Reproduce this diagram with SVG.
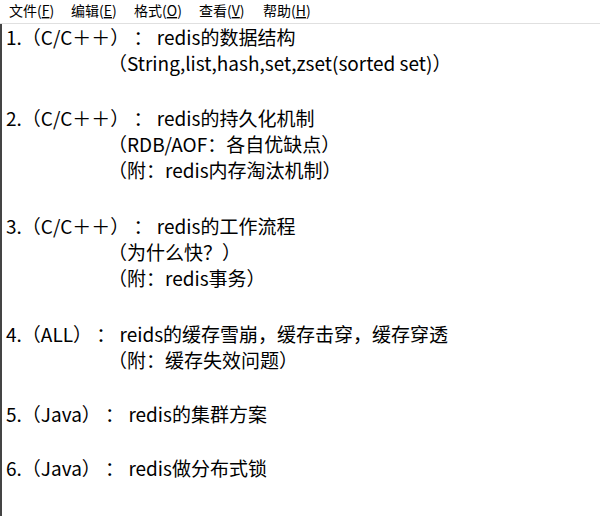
<svg xmlns="http://www.w3.org/2000/svg" width="600" height="516" viewBox="0 0 600 516">
<style>
.m{font-family:"Noto Sans CJK SC","Noto Sans",sans-serif;font-size:14px;fill:#000}
.t{font-family:"Noto Sans CJK SC","Noto Sans",sans-serif;font-size:19px;fill:#000}
</style>
<rect width="600" height="516" fill="#fff"/>
<line x1="0" y1="23.5" x2="600" y2="23.5" stroke="#e0e0e0"/>
<rect x="0" y="24" width="2" height="492" fill="#444"/>
<g id="menu">
<text class="m" x="9" y="16">文件(<tspan text-decoration="underline">F</tspan>)</text>
<text class="m" x="71" y="16">编辑(<tspan text-decoration="underline">E</tspan>)</text>
<text class="m" x="134" y="16">格式(<tspan text-decoration="underline">O</tspan>)</text>
<text class="m" x="199" y="16">查看(<tspan text-decoration="underline">V</tspan>)</text>
<text class="m" x="263" y="16">帮助(<tspan text-decoration="underline">H</tspan>)</text>
</g>
<g id="content">
<text class="t" x="6" y="45" xml:space="preserve">1.（C/C＋＋） ： redis的数据结构</text>
<text class="t" x="108" y="71">（String,list,hash,set,zset(sorted set)）</text>
<text class="t" x="6" y="126" xml:space="preserve">2.（C/C＋＋） ： redis的持久化机制</text>
<text class="t" x="108" y="152">（RDB/AOF：各自优缺点）</text>
<text class="t" x="108" y="178">（附：redis内存淘汰机制）</text>
<text class="t" x="6" y="234" xml:space="preserve">3.（C/C＋＋） ： redis的工作流程</text>
<text class="t" x="108" y="260">（为什么快？）</text>
<text class="t" x="108" y="286">（附：redis事务）</text>
<text class="t" x="6" y="342" xml:space="preserve">4.（ALL） ： reids的缓存雪崩，缓存击穿，缓存穿透</text>
<text class="t" x="108" y="368">（附：缓存失效问题）</text>
<text class="t" x="6" y="422" xml:space="preserve">5.（Java） ： redis的集群方案</text>
<text class="t" x="6" y="476" xml:space="preserve">6.（Java） ： redis做分布式锁</text>
</g>
</svg>
